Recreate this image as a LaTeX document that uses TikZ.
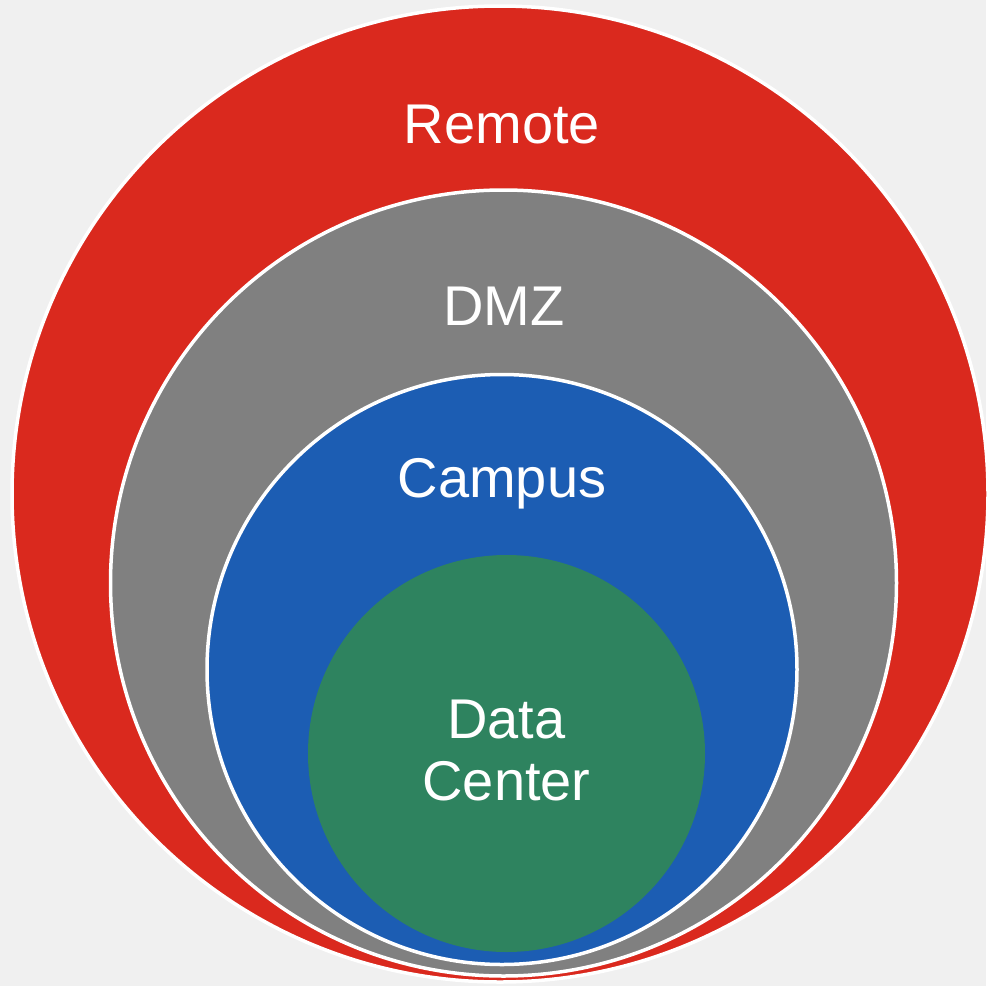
\documentclass[tikz,border=0pt]{standalone}
\usepackage{fontspec}
\setmainfont{Liberation Sans}
\definecolor{bgcol}{HTML}{F0F0F0}
\definecolor{remotecol}{HTML}{DA291E}
\definecolor{dmzcol}{HTML}{808080}
\definecolor{campuscol}{HTML}{1C5DB3}
\definecolor{dccol}{HTML}{2E835F}
\begin{document}
\begin{tikzpicture}[x=1pt,y=-1pt,
  zone/.style={circle, draw=white, line width=3.5pt, inner sep=0pt},
  zonelabel/.style={text=white, font=\fontsize{56}{62}\selectfont, anchor=base, inner sep=0pt, align=center}]
  % page and background
  \fill[bgcol] (0,0) rectangle (986,986);
  \useasboundingbox (0,0) rectangle (986,986);
  % nested zones, outermost first
  \node[zone, fill=remotecol, minimum size=976pt] (remote) at (500,494) {};
  \node[zone, fill=dmzcol, minimum size=786pt] (dmz) at (503.5,583) {};
  \node[zone, fill=campuscol, minimum size=590pt] (campus) at (502,669.5) {};
  \node[zone, fill=dccol, draw=none, minimum size=397pt] (dc) at (506.5,753.5) {};
  % labels
  \node[zonelabel] (remotelbl) at (502,143.5) {Remote};
  \node[zonelabel] (dmzlbl) at (504,325.5) {DMZ};
  \node[zonelabel] (campuslbl) at (502,497.5) {Campus};
  \node[zonelabel] (datalbl) at (506.5,738.5) {Data};
  \node[zonelabel] (centerlbl) at (506.5,800.5) {Center};
\end{tikzpicture}
\end{document}
